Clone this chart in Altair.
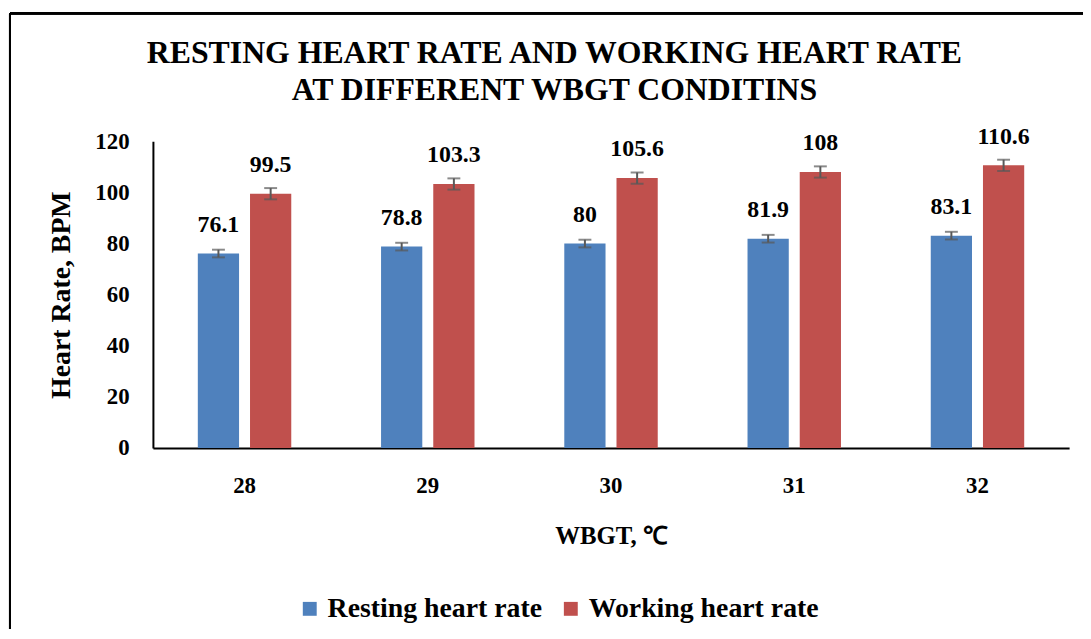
import altair as alt
import pandas as pd

wbgt = ["28", "29", "30", "31", "32"]
resting = [76.1, 78.8, 80.0, 81.9, 83.1]
working = [99.5, 103.3, 105.6, 108.0, 110.6]
resting_err = [1.5, 1.5, 1.5, 1.5, 1.5]
working_err = [2.2, 2.2, 2.2, 2.2, 2.2]
series = ["Resting heart rate", "Working heart rate"]
colors = ["#4F81BD", "#C0504D"]

rows = []
for i, t in enumerate(wbgt):
    rows.append({"wbgt": t, "series": series[0], "value": resting[i],
                 "lo": resting[i] - resting_err[i], "hi": resting[i] + resting_err[i]})
    rows.append({"wbgt": t, "series": series[1], "value": working[i],
                 "lo": working[i] - working_err[i], "hi": working[i] + working_err[i]})
df = pd.DataFrame(rows)

FONT = "Liberation Serif"

x = alt.X("wbgt:N", sort=wbgt,
          scale=alt.Scale(paddingInner=0.49, paddingOuter=0.245),
          axis=alt.Axis(title="WBGT, ℃", labelAngle=0, ticks=False,
                        domainColor="black", domainWidth=2,
                        labelPadding=27, titlePadding=26, titleFontSize=25))
xo = alt.XOffset("series:N", sort=series, scale=alt.Scale(paddingInner=0.21))

base = alt.Chart(df)

bars = base.mark_bar().encode(
    x=x, xOffset=xo,
    y=alt.Y("value:Q", scale=alt.Scale(domain=[0, 120]),
            axis=alt.Axis(title="Heart Rate, BPM", values=[0, 20, 40, 60, 80, 100, 120],
                          grid=False, ticks=False, domainColor="black", domainWidth=2,
                          labelPadding=24, titlePadding=20, titleFontSize=28)),
    color=alt.Color("series:N", sort=series,
                    scale=alt.Scale(domain=series, range=colors),
                    legend=alt.Legend(title=None, orient="none", direction="horizontal",
                                      legendX=144, legendY=457, symbolType="square",
                                      symbolSize=196, symbolStrokeWidth=0,
                                      labelFont=FONT, labelFontSize=28, labelFontWeight="bold",
                                      labelColor="black", columnPadding=14, labelOffset=4,
                                      labelLimit=0)),
)

err = base.mark_rule(color="#595959", strokeWidth=2).encode(
    x=alt.X("wbgt:N", sort=wbgt), xOffset=xo, y="lo:Q", y2="hi:Q")
cap_lo = base.mark_tick(color="#595959", thickness=2, size=13, orient="horizontal").encode(
    x=alt.X("wbgt:N", sort=wbgt), xOffset=xo, y="lo:Q")
cap_hi = base.mark_tick(color="#595959", thickness=2, size=13, orient="horizontal").encode(
    x=alt.X("wbgt:N", sort=wbgt), xOffset=xo, y="hi:Q")

labels = base.mark_text(font=FONT, fontSize=24, fontWeight="bold", baseline="bottom",
                        dy=-17, color="black").encode(
    x=alt.X("wbgt:N", sort=wbgt), xOffset=xo, y="value:Q",
    text=alt.Text("value:Q", format=".1~f"))

frame_top = base.mark_rule(color="black", strokeWidth=2).encode(
    x=alt.value(-144), x2=alt.value(1100), y=alt.value(-129))
frame_left = base.mark_rule(color="black", strokeWidth=2).encode(
    x=alt.value(-144), y=alt.value(-129), y2=alt.value(700))

chart = alt.layer(frame_top, frame_left, bars, err, cap_lo, cap_hi, labels).properties(
    width=923, height=309,
    background="white",
    autosize=alt.AutoSizeParams(type="none"),
    padding={"left": 146, "top": 132, "right": 14, "bottom": 180},
    title=alt.TitleParams(
        text=["RESTING HEART RATE AND WORKING HEART RATE", "AT DIFFERENT WBGT CONDITINS"],
        anchor="middle", frame="group", dx=-57, offset=-95,
        font=FONT, fontSize=32, fontWeight="bold", color="black", lineHeight=37),
).configure_view(stroke=None).configure_axis(
    labelFont=FONT, labelFontSize=23, labelFontWeight="bold", labelColor="black",
    titleFont=FONT, titleFontWeight="bold", titleColor="black",
)

chart.save("out.html", embed_options={"renderer": "svg", "actions": False})
